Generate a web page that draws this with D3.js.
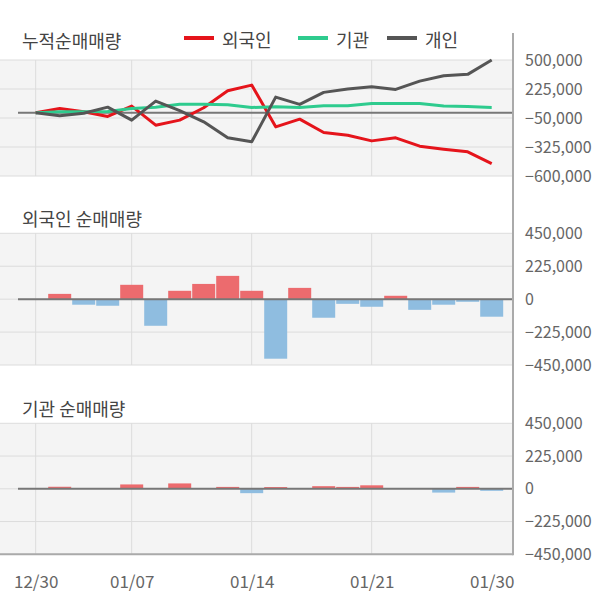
<!DOCTYPE html>
<html>
<head>
<meta charset="utf-8">
<script src="https://cdn.jsdelivr.net/npm/d3@7"></script>
<style>
  html, body { margin: 0; padding: 0; background: #fff; }
  svg { display: block; font-family: "Noto Sans CJK KR", "Noto Sans", sans-serif; }
</style>
</head>
<body>
<svg id="chart" width="600" height="604"></svg>
<script>
// ---- data ----
const dates = ["12/30","01/02","01/03","01/06","01/07","01/08","01/09","01/10","01/13","01/14",
               "01/15","01/16","01/17","01/20","01/21","01/22","01/23","01/28","01/29","01/30"];
const xTickLabels = ["12/30","01/07","01/14","01/21","01/30"];

const seriesNames = ["외국인", "기관", "개인"];
const foreignCum = [0, 41000, 9000, -35000, 63000, -118000, -70000, 47000, 208000, 262000,
                    -134000, -61000, -187000, -213000, -267000, -238000, -317000, -346000, -371000, -482000];
const instCum = [0, 9000, 9000, 12000, 40000, 52000, 80000, 80000, 76000, 50000,
                 56000, 50000, 66000, 66000, 88000, 88000, 88000, 63000, 58000, 50000];
const indivCum = [0, -29000, -5000, 53000, -70000, 110000, 20000, -86000, -238000, -276000,
                  148000, 79000, 193000, 224000, 246000, 221000, 300000, 351000, 364000, 500000];

const foreignNet = [null, 36000, -38000, -45000, 98000, -182000, 57000, 104000, 159000, 57000,
                    -407000, 77000, -127000, -32000, -52000, 23000, -73000, -38000, -18000, -120000];
const instNet = [null, 14000, 0, 0, 30000, 0, 37000, 0, 13000, -30000,
                 12000, 0, 18000, 13000, 24000, 0, 0, -26000, 13000, -14000];

const cumTicks = [500000, 225000, -50000, -325000, -600000];
const netTicks = [450000, 225000, 0, -225000, -450000];

// ---- styles ----
const lineColors = ["#e5141b", "#2ecb8e", "#555555"];
const barUp = "#ec6b6e", barDown = "#8fbde0";
const bgColor = "#f4f4f4", gridColor = "#dcdcdc", axisColor = "#aaaaaa";
const plotLeft = 0, plotRight = 513, zeroLeft = 18;

const svg = d3.select("#chart");
const fmt = d3.format(",");

const x = d3.scaleLinear().domain([0, dates.length - 1]).range([35.7, 491.7]);
const gridIdx = xTickLabels.slice(0, 4).map(l => dates.indexOf(l));

function panel(y, ticks) {
  const [y0, y1] = [y(d3.max(ticks)), y(d3.min(ticks))];
  const g = svg.append("g");
  g.append("rect").attr("x", plotLeft).attr("y", y0).attr("width", plotRight - plotLeft)
    .attr("height", y1 - y0).attr("fill", bgColor);
  g.selectAll(".hg").data(ticks).enter().append("line")
    .attr("x1", plotLeft).attr("x2", plotRight)
    .attr("y1", d => y(d)).attr("y2", d => y(d))
    .attr("stroke", gridColor).attr("stroke-width", 1);
  g.selectAll(".vg").data(gridIdx).enter().append("line")
    .attr("x1", d => x(d)).attr("x2", d => x(d))
    .attr("y1", y0).attr("y2", y1)
    .attr("stroke", gridColor).attr("stroke-width", 1);
  const ax = d3.axisRight(y).tickValues(ticks).tickSize(0).tickPadding(0).tickFormat(fmt);
  const axg = svg.append("g").attr("transform", `translate(${plotRight + 12},0)`).call(ax);
  axg.select(".domain").remove();
  axg.selectAll("text").attr("fill", "#666").attr("font-size", "16px")
    .attr("font-family", '"Noto Sans CJK KR", sans-serif');
  return g;
}

function title(txt, yy) {
  svg.append("text").attr("x", 22).attr("y", yy).attr("dominant-baseline", "central")
    .attr("font-size", "18px").attr("fill", "#444").text(txt);
}

// ---- top: cumulative ----
const yTop = d3.scaleLinear().domain([-600000, 500000]).range([176, 60]);
panel(yTop, cumTicks);
svg.append("line").attr("x1", zeroLeft).attr("x2", plotRight)
  .attr("y1", yTop(0)).attr("y2", yTop(0)).attr("stroke", "#777").attr("stroke-width", 2);
const lineGen = d3.line().x((d, i) => x(i)).y(d => yTop(d));
[foreignCum, instCum, indivCum].forEach((s, k) => {
  svg.append("path").datum(s).attr("d", lineGen).attr("fill", "none")
    .attr("stroke", lineColors[k]).attr("stroke-width", 3).attr("stroke-linejoin", "round");
});
title("누적순매매량", 40);
const legendX = [184, 298, 387];
seriesNames.forEach((n, k) => {
  svg.append("line").attr("x1", legendX[k]).attr("x2", legendX[k] + 30)
    .attr("y1", 38).attr("y2", 38).attr("stroke", lineColors[k]).attr("stroke-width", 4);
  svg.append("text").attr("x", legendX[k] + 38).attr("y", 39).attr("dominant-baseline", "central")
    .attr("font-size", "18px").attr("fill", "#444").text(n);
});

// ---- bar panels ----
function barPanel(data, y, ticks, ttl, ttlY) {
  panel(y, ticks);
  const bw = 23;
  svg.append("g").selectAll("rect").data(data.map((v, i) => ({ v, i })).filter(d => d.v !== null && d.v !== 0))
    .enter().append("rect")
    .attr("x", d => x(d.i) - bw / 2).attr("width", bw)
    .attr("y", d => y(Math.max(0, d.v)))
    .attr("height", d => Math.abs(y(d.v) - y(0)))
    .attr("fill", d => d.v > 0 ? barUp : barDown);
  svg.append("line").attr("x1", zeroLeft).attr("x2", plotRight)
    .attr("y1", y(0)).attr("y2", y(0)).attr("stroke", "#777").attr("stroke-width", 2);
  title(ttl, ttlY);
}
const yMid = d3.scaleLinear().domain([-450000, 450000]).range([365, 233.3]);
barPanel(foreignNet, yMid, netTicks, "외국인 순매매량", 218);
const yBot = d3.scaleLinear().domain([-450000, 450000]).range([554.3, 423.3]);
barPanel(instNet, yBot, netTicks, "기관 순매매량", 408);

// bottom axis line
svg.append("line").attr("x1", plotLeft).attr("x2", plotRight)
  .attr("y1", 554.3).attr("y2", 554.3).attr("stroke", axisColor).attr("stroke-width", 2);
// right axis line
svg.append("line").attr("x1", plotRight).attr("x2", plotRight)
  .attr("y1", 33).attr("y2", 555.3).attr("stroke", axisColor).attr("stroke-width", 2);

// x labels
const xa = d3.axisBottom(x).tickValues(xTickLabels.map(l => dates.indexOf(l)))
  .tickSize(0).tickPadding(0).tickFormat(i => dates[i]);
const xg = svg.append("g").attr("transform", "translate(0,580)").call(xa);
xg.select(".domain").remove();
xg.selectAll("text").attr("dy", null).attr("dominant-baseline", "central")
  .attr("fill", "#666").attr("font-size", "17px").attr("font-family", '"Noto Sans CJK KR", sans-serif');
</script>
</body>
</html>
